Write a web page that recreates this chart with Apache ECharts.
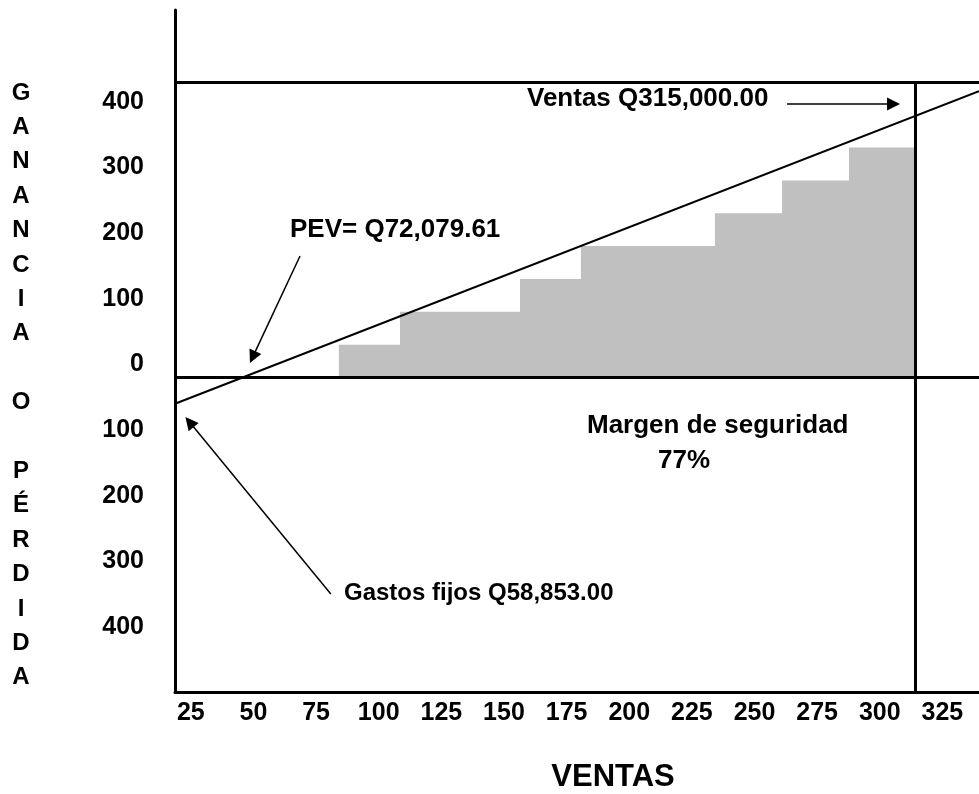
<!DOCTYPE html>
<html>
<head>
<meta charset="utf-8">
<script src="https://cdn.jsdelivr.net/npm/echarts@6.0.0/dist/echarts.min.js"></script>
<style>
  html, body { margin: 0; padding: 0; background: #fff; }
  #chart { width: 979px; height: 794px; }
</style>
</head>
<body>
<div id="chart"></div>
<script>
// tick labels
const xTicks = [25, 50, 75, 100, 125, 150, 175, 200, 225, 250, 275, 300, 325]
const yTicks = [400, 300, 200, 100, 0, -100, -200, -300, -400]

// staircase (ganancia)
const stepX = [84.1, 108.5, 156.4, 180.7, 234.2, 261.0, 287.7, 314.1]
const stepY = [50, 100, 150, 200, 250, 300, 350, 350]

// sales line, from left edge to right edge
const salesX = [18.7, 339.6]
const salesY = [-40, 436]

// reference lines
const ventasX = 314.1
const topLine = 450

const FONT = '"Liberation Sans", Arial, sans-serif'

const chart = echarts.init(document.getElementById('chart'), null, { renderer: 'canvas' })

// two empty lines on top push the stacked letters down a bit
const yTitle = ['', '', 'G', 'A', 'N', 'A', 'N', 'C', 'I', 'A', '', 'O', '', 'P', 'É', 'R', 'D', 'I', 'D', 'A'].join('\n')

const option = {
  animation: false,
  backgroundColor: '#fff',
  grid: { left: 175, right: 0, top: 10, bottom: 102, outerBoundsMode: 'none' },
  xAxis: {
    type: 'value',
    min: 18.7,
    max: 339.6,
    name: 'VENTAS',
    nameLocation: 'middle',
    nameGap: 70,
    nameTextStyle: { color: '#000', fontSize: 31, fontWeight: 'bold', fontFamily: FONT, padding: [0, 0, 0, 72] },
    axisLine: { onZero: false, lineStyle: { color: '#000', width: 3 } },
    axisTick: { show: false },
    splitLine: { show: false },
    axisLabel: {
      customValues: xTicks,
      color: '#000',
      fontSize: 25,
      fontWeight: 'bold',
      fontFamily: FONT,
      margin: 9,
    },
  },
  yAxis: {
    type: 'value',
    min: -478.7,
    max: 559.4,
    name: yTitle,
    nameLocation: 'middle',
    nameRotate: 0,
    nameGap: 154,
    nameTextStyle: {
      color: '#000', fontSize: 24, fontWeight: 'bold', fontFamily: FONT,
      lineHeight: 34.4, align: 'center',
    },
    axisLine: { onZero: false, lineStyle: { color: '#000', width: 3 } },
    axisTick: { show: false },
    splitLine: { show: false },
    axisLabel: {
      customValues: yTicks,
      // trailing empty line lifts the number above its tick
      formatter: v => Math.abs(v) + '\n',
      color: '#000',
      fontSize: 25,
      lineHeight: 26,
      fontWeight: 'bold',
      fontFamily: FONT,
      margin: 31,
    },
  },
  series: [
    {
      name: 'escalones',
      type: 'line',
      step: 'end',
      symbol: 'none',
      data: stepX.map((x, i) => [x, stepY[i]]),
      lineStyle: { width: 0 },
      areaStyle: { color: '#c0c0c0', opacity: 1 },
      z: 1,
      markLine: {
        silent: true,
        symbol: ['none', 'none'],
        label: { show: false },
        lineStyle: { color: '#000', width: 3, type: 'solid' },
        data: [
          { yAxis: 0 },
          { yAxis: topLine },
          [{ coord: [ventasX, -478.7] }, { coord: [ventasX, topLine] }],
        ],
      },
    },
    {
      name: 'ventas',
      type: 'line',
      symbol: 'none',
      data: salesX.map((x, i) => [x, salesY[i]]),
      lineStyle: { color: '#000', width: 2 },
      z: 3,
      markLine: {
        silent: true,
        symbol: ['none', 'triangle'],
        symbolSize: 13,
        label: { show: false },
        lineStyle: { color: '#000', width: 1.5, type: 'solid' },
        data: [
          [{ coord: [263.0, 416.3] }, { coord: [305.5, 416.3] }],
          [{ coord: [68.6, 184.9] }, { coord: [49.7, 31.1] }],
          [{ coord: [80.9, -329.5] }, { coord: [24.5, -67.7] }],
        ],
      },
    },
  ],
  graphic: [
    { type: 'text', x: 527, y: 99, style: { text: 'Ventas Q315,000.00', fill: '#000', font: 'bold 26px ' + FONT, verticalAlign: 'middle' } },
    { type: 'text', x: 290, y: 230, style: { text: 'PEV= Q72,079.61', fill: '#000', font: 'bold 26px ' + FONT, verticalAlign: 'middle' } },
    { type: 'text', x: 587, y: 426, style: { text: 'Margen de seguridad', fill: '#000', font: 'bold 26px ' + FONT, verticalAlign: 'middle' } },
    { type: 'text', x: 658, y: 461, style: { text: '77%', fill: '#000', font: 'bold 26px ' + FONT, verticalAlign: 'middle' } },
    { type: 'text', x: 344, y: 593, style: { text: 'Gastos fijos Q58,853.00', fill: '#000', font: 'bold 24px ' + FONT, verticalAlign: 'middle' } },
  ],
}

chart.setOption(option)
</script>
</body>
</html>
